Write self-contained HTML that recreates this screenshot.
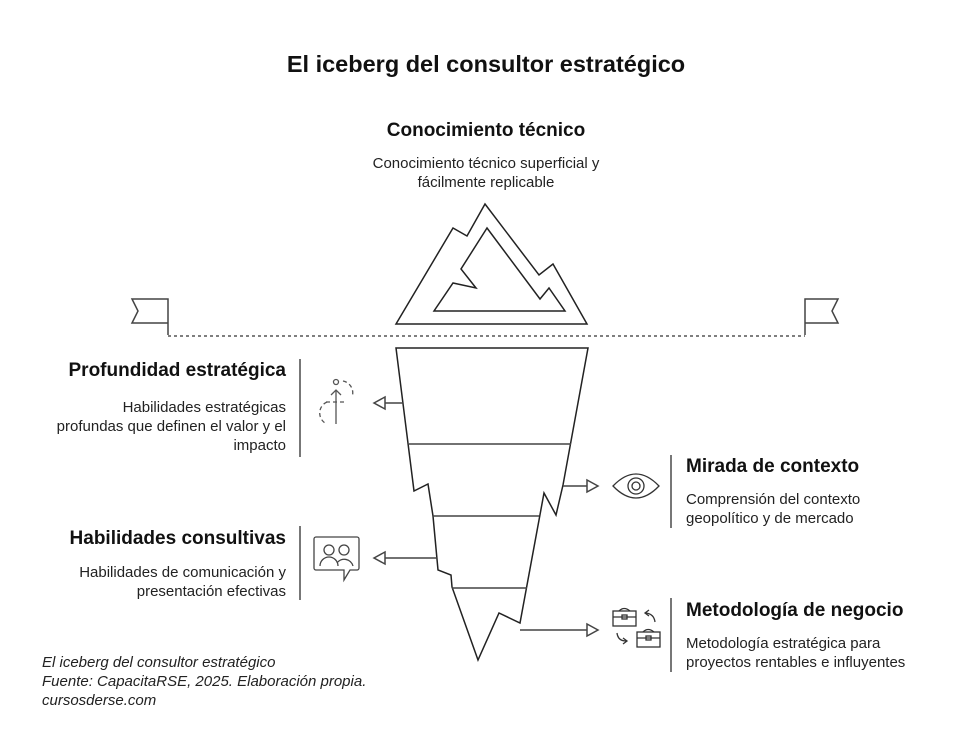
<!DOCTYPE html>
<html><head><meta charset="utf-8"><style>
html,body{margin:0;padding:0;background:#fff;}
body{width:972px;height:750px;position:relative;overflow:hidden;font-family:"Liberation Sans",sans-serif;color:#111;}
.t{position:absolute;white-space:nowrap;}
.b{font-weight:bold;font-size:19px;}
.s{font-size:15px;line-height:19px;color:#222;}
.r{text-align:right;}
.bar{position:absolute;width:2px;background:#777;}
</style></head><body>
<div class="t b" style="left:0;width:972px;text-align:center;top:51px;font-size:23.5px;">El iceberg del consultor estratégico</div>
<div class="t b" style="left:0;width:972px;text-align:center;top:120px;">Conocimiento técnico</div>
<div class="t s" style="left:0;width:972px;text-align:center;top:154px;">Conocimiento técnico superficial y<br>fácilmente replicable</div>

<div class="t b r" style="right:686px;top:360px;">Profundidad estratégica</div>
<div class="t s r" style="right:686px;top:398px;">Habilidades estratégicas<br>profundas que definen el valor y el<br>impacto</div>
<div class="bar" style="left:299px;top:359px;height:98px;"></div>

<div class="t b r" style="right:686px;top:528px;">Habilidades consultivas</div>
<div class="t s r" style="right:686px;top:563px;">Habilidades de comunicación y<br>presentación efectivas</div>
<div class="bar" style="left:299px;top:526px;height:74px;"></div>

<div class="t b" style="left:686px;top:456px;">Mirada de contexto</div>
<div class="t s" style="left:686px;top:490px;">Comprensión del contexto<br>geopolítico y de mercado</div>
<div class="bar" style="left:670px;top:455px;height:73px;"></div>

<div class="t b" style="left:686px;top:600px;">Metodología de negocio</div>
<div class="t s" style="left:686px;top:634px;">Metodología estratégica para<br>proyectos rentables e influyentes</div>
<div class="bar" style="left:670px;top:598px;height:74px;"></div>

<div class="t" style="left:42px;top:653px;font-style:italic;font-size:15px;line-height:19px;color:#222;">El iceberg del consultor estratégico<br>Fuente: CapacitaRSE, 2025. Elaboración propia.<br>cursosderse.com</div>

<svg width="972" height="750" style="position:absolute;left:0;top:0" fill="none" stroke="#222" stroke-width="1.5" stroke-linejoin="miter">
<polygon points="485,204 539,275 553,264 587,324 396,324 453,228 467,236"/>
<polygon points="487,228 461,269 476,288 453,283 434,311 565,311 549,288 540,299"/>
<line x1="168" y1="336" x2="805" y2="336" stroke="#555" stroke-dasharray="3,3"/>
<path d="M168,335 V299 H132 L138,311 L132,323 H168" stroke="#444"/>
<path d="M805,335 V299 H838 L832,311 L838,323 H805" stroke="#444"/>
<polygon points="396,348 588,348 563,485 556,515 544,493 520,623 499,613 478,660 452,587 451,575 438,570 433,516 428,484 414,491"/>
<line x1="409" y1="444" x2="571" y2="444" stroke="#444"/>
<line x1="433" y1="516" x2="539" y2="516" stroke="#444"/>
<line x1="452" y1="588" x2="527" y2="588" stroke="#444"/>
<g stroke="#444">
<line x1="403" y1="403" x2="385" y2="403"/><polygon points="374,403 385,397 385,409"/>
<line x1="563" y1="486" x2="587" y2="486"/><polygon points="598,486 587,480 587,492"/>
<line x1="437" y1="558" x2="385" y2="558"/><polygon points="374,558 385,552 385,564"/>
<line x1="520" y1="630" x2="587" y2="630"/><polygon points="598,630 587,624 587,636"/>
</g>
<g stroke="#555" stroke-width="1.3">
<circle cx="336" cy="382" r="2.5"/>
<line x1="336" y1="390" x2="336" y2="424"/>
<polyline points="331,395 336,390 341,395"/>
<path d="M343,381 A12,12 0 0 1 352,397" stroke-dasharray="4,3"/>
<path d="M327,402 A12,12 0 0 0 325,423" stroke-dasharray="4,3"/>
<line x1="326" y1="402" x2="346" y2="402" stroke-dasharray="4,3"/>
</g>
<g stroke="#444" stroke-width="1.3">
<path d="M316,537 H357 A2,2 0 0 1 359,539 V568 A2,2 0 0 1 357,570 H350 L344,580 V570 H316 A2,2 0 0 1 314,568 V539 A2,2 0 0 1 316,537 Z"/>
<circle cx="329" cy="550" r="5"/><path d="M320,566 A9,9 0 0 1 338,566"/>
<circle cx="344" cy="550" r="5"/><path d="M337,563 A9,9 0 0 1 353,566"/>
</g>
<g stroke="#333" stroke-width="1.3">
<path d="M613,486 Q636,462 659,486 Q636,510 613,486 Z"/>
<circle cx="636" cy="486" r="8"/><circle cx="636" cy="486" r="4"/>
</g>
<g stroke="#333" stroke-width="1.3">
<rect x="613" y="611" width="23" height="15"/><path d="M619,611 Q624,606 630,611"/><line x1="613" y1="617" x2="636" y2="617"/><rect x="622" y="615" width="5" height="4"/>
<rect x="637" y="632" width="23" height="15"/><path d="M643,632 Q648,627 654,632"/><line x1="637" y1="638" x2="660" y2="638"/><rect x="646" y="636" width="5" height="4"/>
<path d="M655,622 Q654,614 646,613"/><polyline points="649,610 645,613 649,616"/>
<path d="M617,633 Q618,641 626,641"/><polyline points="623,638 627,641 623,644"/>
</g>
</svg>
</body></html>
